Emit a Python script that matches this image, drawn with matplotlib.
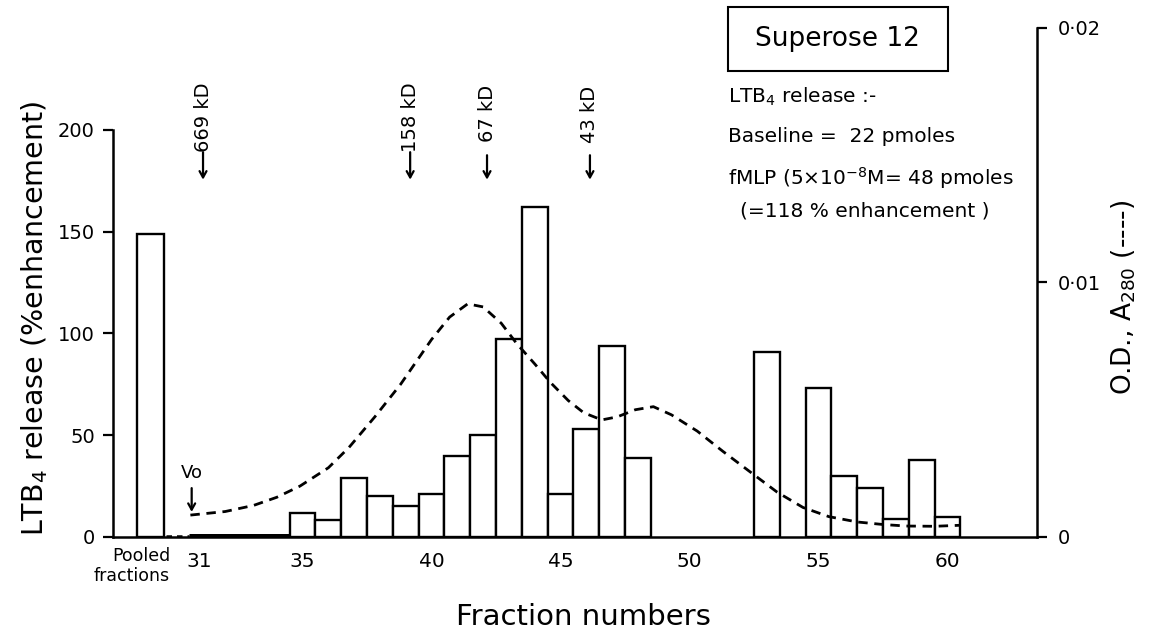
"""
Superose 12 gel filtration: LTB4 release per fraction (bars) with the
A280 elution profile (dashed) on a second axis.
"""

import matplotlib

matplotlib.use("Agg")
import matplotlib.pyplot as plt
from matplotlib.patches import Rectangle

plt.rcParams["font.family"] = ["DejaVu Sans"]
plt.rcParams["mathtext.fontset"] = "dejavusans"

# LTB4 release (% enhancement) for single fractions
fractions = [35, 36, 37, 38, 39, 40, 41, 42, 43, 44, 45, 46, 47, 48,
             53, 55, 56, 57, 58, 59, 60]
release = [12, 8.5, 29, 20, 15, 21, 40, 50, 97, 162, 21, 53, 94, 39,
           91, 73, 30, 24, 9, 38, 10]

# pooled fractions bar, drawn left of fraction 31
pooled_x = 29.1
pooled_release = 149

# fractions 31-34 sit on the baseline (drawn as a heavy line)
flat_start, flat_end = 30.6, 34.5

# A280 trace
od_fraction = [30.65, 32.0, 33.1, 34.0, 34.9, 36.0, 36.8, 37.8, 38.8, 40.0,
               40.7, 41.4, 42.0, 42.7, 43.3, 44.0, 44.6, 45.3, 45.9, 46.6,
               47.2, 47.9, 48.6, 49.3, 50.3, 51.3, 52.4, 53.4, 54.4, 55.4,
               56.5, 57.5, 58.4, 59.5, 60.5]
od_a280 = [0.00086, 0.0010, 0.00124, 0.00156, 0.0020, 0.00272, 0.00352,
           0.00472, 0.0060, 0.00776, 0.00864, 0.00916, 0.00904, 0.0084,
           0.0076, 0.0068, 0.00608, 0.00536, 0.00488, 0.0046, 0.00472,
           0.0050, 0.00512, 0.0048, 0.00416, 0.00336, 0.00252, 0.00176,
           0.00116, 0.0008, 0.00059, 0.00049, 0.00043, 0.00042, 0.00046]

# molecular weight markers
marker_labels = ["669 kD", "158 kD", "67 kD", "43 kD"]
marker_fraction = [31.14, 39.17, 42.15, 46.14]

x_ticks = [31, 35, 40, 45, 50, 55, 60]
left_ticks = [0, 50, 100, 150, 200]
right_ticks = [0, 0.01, 0.02]
right_ticklabels = ["0", "0\u00b701", "0\u00b702"]

fig = plt.figure(figsize=(11.59, 6.36), dpi=100)
ax = fig.add_axes([0.0975, 0.1557, 0.7972, 0.8003])
ax2 = ax.twinx()

edge = dict(facecolor="white", edgecolor="black", linewidth=1.7)
ax.bar(fractions, release, width=1.0, **edge)
ax.bar([pooled_x], [pooled_release], width=1.05, **edge)
ax.plot([flat_start, flat_end], [0.6, 0.6], color="black", lw=3.6,
        solid_capstyle="butt")
ax.plot([pooled_x + 0.6, flat_start], [0.6, 0.6], color="black", lw=1.8,
        ls=(0, (2.2, 2.0)))

ax.set_xlim(27.65, 63.47)
ax.set_ylim(0, 250)
ax2.set_ylim(0, 0.02)

ax2.plot(od_fraction, od_a280, color="black", lw=2.0, ls=(0, (3.4, 2.4)))

# spines
for side in ("top", "right"):
    ax.spines[side].set_visible(False)
for side in ("top", "left", "bottom"):
    ax2.spines[side].set_visible(False)
ax.spines["left"].set_bounds(0, 200)
for sp in (ax.spines["left"], ax.spines["bottom"], ax2.spines["right"]):
    sp.set_linewidth(1.8)

ax.set_xticks(x_ticks)
ax.tick_params(axis="x", length=0, pad=11, labelsize=14.5)
ax.set_yticks(left_ticks)
ax.tick_params(axis="y", length=7, width=1.6, pad=6, labelsize=14)
ax2.set_yticks(right_ticks)
ax2.set_yticklabels(right_ticklabels)
ax2.tick_params(axis="y", length=7, width=1.6, pad=8, labelsize=14)

ax.set_ylabel("LTB$_4$ release (%enhancement)", fontsize=20.5)
ax.yaxis.set_label_coords(-0.068, 0.43)
ax2.set_ylabel("O.D., A$_{280}$ (----)", fontsize=19)
ax2.yaxis.set_label_coords(1.079, 0.47)
ax.set_xlabel("Fraction numbers", fontsize=21)
ax.xaxis.set_label_coords(0.509, -0.13)

ax.text(29.86, -0.02, "Pooled\nfractions", transform=ax.get_xaxis_transform(),
        ha="right", va="top", fontsize=12.5, multialignment="right",
        linespacing=1.1)

# molecular weight marker arrows
arrow = dict(arrowstyle="->,head_length=0.45,head_width=0.25", lw=1.6,
             color="black", shrinkA=0, shrinkB=0)
text_bottom = [189, 189, 194, 193.5]
arrow_start = [189, 189, 187.5, 187.5]
for label, xf, tb, a0 in zip(marker_labels, marker_fraction, text_bottom,
                             arrow_start):
    ax.annotate("", xy=(xf, 175.5), xytext=(xf, a0), arrowprops=arrow)
    ax.text(xf, tb, label, rotation=90, ha="center", va="bottom",
            fontsize=14)

# void volume
ax.annotate("", xy=(30.7, 12.3), xytext=(30.7, 24), arrowprops=arrow)
ax.text(30.7, 31.5, "Vo", ha="center", va="center", fontsize=13)

# column label and release summary
ax.add_patch(Rectangle((0.6656, 0.9155), 0.2381, 0.1257,
                       transform=ax.transAxes, fill=False, lw=1.5,
                       clip_on=False))
ax.text(0.7846, 0.978, "Superose 12", transform=ax.transAxes,
        ha="center", va="center", fontsize=19)
info = [
    (0.6656, 0.8644, "LTB$_4$ release :-"),
    (0.6656, 0.7859, "Baseline =  22 pmoles"),
    (0.6656, 0.7053, "fMLP (5\u00d710$^{-8}$M= 48 pmoles"),
    (0.6786, 0.6405, "(=118 % enhancement )"),
]
for x, y, s in info:
    ax.text(x, y, s, transform=ax.transAxes, ha="left", va="center",
            fontsize=14.5)

fig.savefig("out.png", dpi=100)
plt.close(fig)
